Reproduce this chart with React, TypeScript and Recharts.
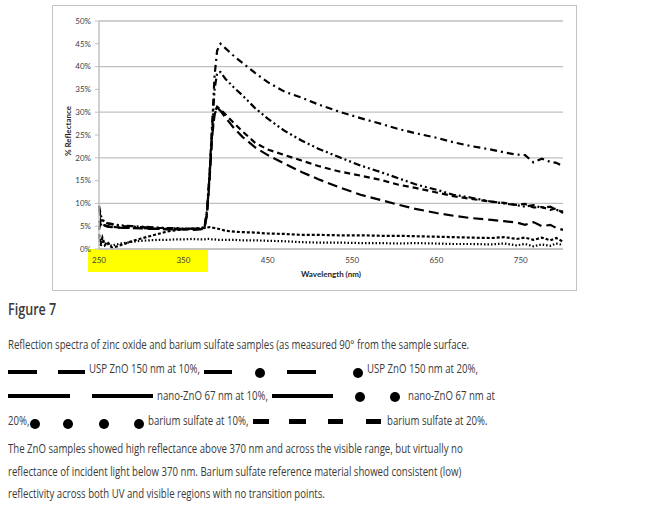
import React from "react"
import { CartesianGrid, Label, Line, LineChart, XAxis, YAxis } from "recharts"

// wavelength (nm) shared by every series
const wavelength = [250, 252, 254, 257, 260, 265, 270, 280, 290, 300, 310, 320, 330, 340, 350, 360, 370, 375, 378, 381, 384, 387, 390, 394, 400, 410, 420, 435, 450, 470, 490, 510, 535, 560, 585, 605, 625, 650, 670, 690, 715, 730, 745, 755, 765, 775, 785, 792, 800]

// % reflectance
const uspZnO10 = [6.2, 5.3, 5.8, 5.2, 5.0, 4.9, 4.8, 4.7, 4.6, 4.6, 4.5, 4.4, 4.4, 4.3, 4.4, 4.3, 4.4, 4.6, 7.8, 15.5, 25, 30, 31.2, 30.6, 29.5, 27.6, 25.8, 23.3, 21.8, 20.6, 19.4, 18.2, 17.0, 16.1, 15.1, 14.1, 13.4, 12.4, 11.6, 11.0, 10.4, 10.1, 9.7, 9.9, 9.1, 9.2, 8.6, 8.9, 7.9]
const uspZnO20 = [8.8, 6.8, 6.2, 5.8, 5.6, 5.4, 5.2, 5.0, 4.9, 4.8, 4.7, 4.6, 4.6, 4.5, 4.5, 4.4, 4.5, 4.7, 8.5, 16.5, 27, 38, 43.5, 45, 44, 42.3, 40.8, 38.6, 36.6, 34.5, 33.2, 31.7, 30.1, 28.7, 27.4, 26.3, 25.4, 24.4, 23.4, 22.6, 21.8, 21.2, 20.7, 20.6, 19.0, 19.8, 19.1, 18.9, 18.2]
const nanoZnO10 = [4.2, 6.3, 5.5, 5.1, 4.9, 4.8, 4.7, 4.6, 4.6, 4.5, 4.4, 4.4, 4.3, 4.3, 4.3, 4.2, 4.3, 4.5, 7.5, 15, 24.5, 29.5, 31, 30.3, 28.8, 26.5, 24.6, 22.3, 20.6, 18.7, 16.9, 15.3, 13.5, 11.9, 10.7, 9.7, 8.8, 7.9, 7.3, 6.8, 6.4, 6.1, 5.8, 5.3, 5.9, 5.0, 5.3, 4.6, 4.2]
const nanoZnO20 = [9.5, 7.5, 6.4, 6.0, 5.7, 5.5, 5.3, 5.1, 5.0, 4.9, 4.8, 4.7, 4.6, 4.6, 4.5, 4.5, 4.6, 4.8, 8.2, 16, 26, 35, 38.6, 38.8, 37.3, 35.4, 33.7, 30.9, 28.6, 25.9, 23.8, 22.0, 20.1, 18.3, 16.8, 15.5, 14.2, 13.0, 11.9, 11.3, 10.4, 10.0, 9.6, 9.3, 9.6, 9.0, 9.3, 8.6, 8.2]
const bariumSulfate10 = [2.6, 0.5, 1.9, 0.8, 1.1, 0.7, 1.0, 1.3, 1.6, 1.8, 1.9, 2.0, 2.0, 2.1, 2.1, 2.2, 2.1, 2.1, 2.2, 2.2, 2.1, 2.1, 2.0, 2.0, 2.0, 2.0, 1.9, 1.9, 1.8, 1.7, 1.5, 1.4, 1.4, 1.3, 1.3, 1.2, 1.3, 1.2, 1.1, 1.1, 1.0, 1.2, 0.8, 1.1, 0.6, 1.0, 0.7, 1.2, 0.9]
const bariumSulfate20 = [3.3, 1.0, 2.5, 0.9, 1.6, 0.3, 0.5, 1.1, 1.8, 2.3, 2.8, 3.3, 3.8, 4.1, 4.3, 4.4, 4.5, 4.6, 4.7, 4.8, 4.7, 4.6, 4.5, 4.3, 4.0, 3.8, 3.7, 3.6, 3.4, 3.3, 3.1, 3.1, 3.0, 3.0, 2.9, 2.9, 2.8, 2.7, 2.6, 2.5, 2.4, 2.6, 2.2, 2.5, 2.0, 2.5, 1.9, 2.4, 1.6]

const xTicks = [250, 350, 450, 550, 650, 750]
const yTicks = [0, 5, 10, 15, 20, 25, 30, 35, 40, 45, 50]

const data = wavelength.map((nm, i) => ({
    nm,
    uspZnO10: uspZnO10[i],
    uspZnO20: uspZnO20[i],
    nanoZnO10: nanoZnO10[i],
    nanoZnO20: nanoZnO20[i],
    bariumSulfate10: bariumSulfate10[i],
    bariumSulfate20: bariumSulfate20[i],
}))

const series = [
    { key: "uspZnO10", dash: "6 4" },
    { key: "uspZnO20", dash: "7 4 2 4" },
    { key: "nanoZnO10", dash: "10 5" },
    { key: "nanoZnO20", dash: "7 3 2 3 2 3" },
    { key: "bariumSulfate10", dash: "1.5 2" },
    { key: "bariumSulfate20", dash: "3 2" },
]

const chartFont = "Lato, 'Open Sans', sans-serif"
const textFont = "'Open Sans', sans-serif"
const SX = 0.74

const T = ({ x, y, size = 13, weight = 400, children }: any) => (
    <div style={{
        position: "absolute", left: x, top: y - 10, height: 20, lineHeight: "20px",
        fontSize: size, fontWeight: weight, fontFamily: textFont, color: "#3a3a3a",
        whiteSpace: "nowrap", transform: `scaleX(${SX})`, transformOrigin: "0 50%",
    }}>{children}</div>
)

const Bar = ({ x1, x2, y, h = 4 }: any) => (
    <div style={{ position: "absolute", left: x1, top: y - h / 2, width: x2 - x1, height: h, background: "#000" }} />
)

const Dot = ({ cx, cy, r = 5 }: any) => (
    <div style={{ position: "absolute", left: cx - r, top: cy - r, width: 2 * r, height: 2 * r, borderRadius: "50%", background: "#000" }} />
)

const App = () => (
    <div style={{ position: "absolute", left: 0, top: 0, width: 650, height: 515, background: "#fff" }}>
        <div style={{ position: "absolute", left: 88, top: 249, width: 120, height: 23, background: "#ffff00" }} />
        <div style={{ position: "absolute", left: 52, top: 5, width: 525, height: 286, boxSizing: "border-box", border: "1px solid #c4c4c4" }} />
        <div style={{ position: "absolute", left: 52, top: 5 }}>
            <LineChart width={525} height={286} data={data} margin={{ top: 16, right: 14, bottom: 0, left: 0 }}>
                <CartesianGrid vertical={false} stroke="#c0c0c0" strokeWidth={1.3} />
                <XAxis
                    dataKey="nm" type="number" domain={[250, 800]} ticks={xTicks} height={42}
                    axisLine={{ stroke: "#c0c0c0", strokeWidth: 1.3 }} tickLine={false} tickSize={6} tickMargin={2}
                    tick={{ fontSize: 8, fill: "#404040", fontFamily: chartFont }}
                >
                    <Label content={({ viewBox }: any) => (
                        <text x={viewBox.x + viewBox.width / 2} y={viewBox.y + 25} textAnchor="middle" dominantBaseline="central"
                            fontSize={8} fontWeight={700} fill="#262626" fontFamily={chartFont}>Wavelength (nm)</text>
                    )} />
                </XAxis>
                <YAxis
                    type="number" domain={[0, 50]} ticks={yTicks} width={47} tickFormatter={(v: number) => `${v}%`}
                    axisLine={{ stroke: "#c0c0c0", strokeWidth: 1.5 }} tickLine={{ stroke: "#c0c0c0" }} tickSize={4} tickMargin={4}
                    tick={{ fontSize: 8, fill: "#404040", fontFamily: chartFont }}
                >
                    <Label content={({ viewBox }: any) => {
                        const x = viewBox.x + 16
                        const y = viewBox.y + viewBox.height / 2 - 4
                        return (
                            <text x={x} y={y} transform={`rotate(-90 ${x} ${y})`} textAnchor="middle" dominantBaseline="central"
                                fontSize={8} fontWeight={700} fill="#262626" fontFamily={chartFont}>% Reflectance</text>
                        )
                    }} />
                </YAxis>
                {series.map(s => (
                    <Line key={s.key} dataKey={s.key} type="linear" stroke="#000" strokeWidth={2.2}
                        strokeDasharray={s.dash} dot={false} activeDot={false} isAnimationActive={false} />
                ))}
            </LineChart>
        </div>

        <T x={8} y={309} size={17} weight={600}>Figure 7</T>
        <T x={8} y={344}>Reflection spectra of zinc oxide and barium sulfate samples (as measured 90° from the sample surface.</T>

        <Bar x1={8} x2={37} y={372} />
        <Bar x1={58} x2={85} y={372} />
        <T x={89} y={368}>USP ZnO 150 nm at 10%,</T>
        <Bar x1={204} x2={232} y={372} />
        <Dot cx={260} cy={373} />
        <Bar x1={287} x2={316} y={372} />
        <Dot cx={358} cy={373} />
        <T x={367} y={368}>USP ZnO 150 nm at 20%,</T>

        <Bar x1={8} x2={70} y={396} />
        <Bar x1={92} x2={153} y={396} />
        <T x={157} y={395}>nano-ZnO 67 nm at 10%,</T>
        <Bar x1={272} x2={333} y={396} />
        <Dot cx={360} cy={397} />
        <Dot cx={395} cy={397} />
        <T x={408} y={395}>nano-ZnO 67 nm at</T>

        <T x={8} y={420}>20%,</T>
        <Dot cx={35} cy={424} />
        <Dot cx={68} cy={424} />
        <Dot cx={104} cy={424} />
        <Dot cx={139} cy={424} />
        <T x={148} y={420}>barium sulfate at 10%,</T>
        <Bar x1={253} x2={269} y={421} h={5} />
        <Bar x1={289} x2={306} y={421} h={5} />
        <Bar x1={328} x2={343} y={421} h={5} />
        <Bar x1={366} x2={381} y={421} h={5} />
        <T x={387} y={420}>barium sulfate at 20%.</T>

        <T x={8} y={448}>The ZnO samples showed high reflectance above 370 nm and across the visible range, but virtually no</T>
        <T x={8} y={471}>reflectance of incident light below 370 nm. Barium sulfate reference material showed consistent (low)</T>
        <T x={8} y={493}>reflectivity across both UV and visible regions with no transition points.</T>
    </div>
)

export default App
